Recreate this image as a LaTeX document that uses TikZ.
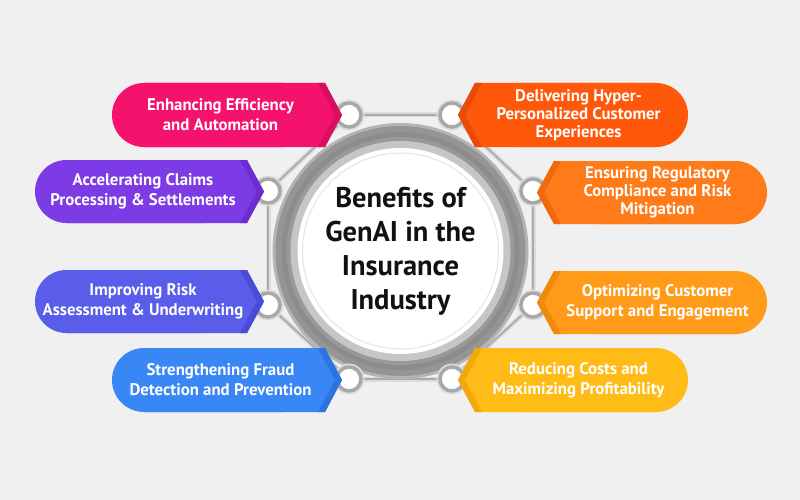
\documentclass[tikz,border=0pt]{standalone}
\usepackage{fontspec}
\setmainfont{PT Sans}
\definecolor{bggray}{HTML}{F0F0F0}
\definecolor{ringgray}{HTML}{A8A8A8}
\definecolor{halogray}{HTML}{DCDCDC}
\definecolor{linegray}{HTML}{AAAAAA}
\definecolor{titleblack}{HTML}{111111}
\definecolor{rgA}{HTML}{B4B4B4}
\definecolor{rgB}{HTML}{959595}
\definecolor{rgC}{HTML}{8C8C8C}
\definecolor{rgD}{HTML}{999999}
\definecolor{rgE}{HTML}{C6C6C6}
\definecolor{rgF}{HTML}{E4E4E4}
\definecolor{pinkA}{HTML}{F5126C}\definecolor{pinkB}{HTML}{D90E5E}
\definecolor{purpA}{HTML}{7D3BE5}\definecolor{purpB}{HTML}{6A2ECF}
\definecolor{indA}{HTML}{5A5CEA}\definecolor{indB}{HTML}{4A4CD8}
\definecolor{blueA}{HTML}{3887F5}\definecolor{blueB}{HTML}{2C74E0}
\definecolor{redA}{HTML}{FF580A}\definecolor{redB}{HTML}{E94A05}
\definecolor{oraA}{HTML}{FF7A18}\definecolor{oraB}{HTML}{EF6A0C}
\definecolor{yelA}{HTML}{FF9B19}\definecolor{yelB}{HTML}{F08A0E}
\definecolor{ambA}{HTML}{FFBB16}\definecolor{ambB}{HTML}{F2A80C}
\pgfdeclarelayer{back}
\pgfdeclarelayer{lines}
\pgfsetlayers{back,lines,main}
% left pill: name, fill, dark, left x, tip x, top y, bottom y, text
\newcommand\lpill[8]{%
  \pgfmathsetmacro\pilRr{(#7-#6)/2}%
  \pgfmathsetmacro\pilMy{(#7+#6)/2}%
  \pgfmathsetmacro\pilCx{#5-17}%
  \pgfmathsetmacro\pilTx{(#4+#5-17)/2+2}%
  \fill[#2, rounded corners=\pilRr pt] (#4,#6) rectangle ({\pilCx-10},#7);
  \fill[#2] ({#4+\pilRr},#6) -- (\pilCx,#6) -- (#5,\pilMy) -- (\pilCx,#7) -- ({#4+\pilRr},#7) -- cycle;
  \fill[#3] ({\pilCx-7},#6) -- (\pilCx,#6) -- (#5,\pilMy) -- (\pilCx,#7) -- ({\pilCx-7},#7) -- ({#5-7},\pilMy) -- cycle;
  \node[pilltext] (#1) at (\pilTx,\pilMy) {#8};
}
% right pill: name, fill, dark, tip x, right x, top y, bottom y, text
\newcommand\rpill[8]{%
  \pgfmathsetmacro\pilRr{(#7-#6)/2}%
  \pgfmathsetmacro\pilMy{(#7+#6)/2}%
  \pgfmathsetmacro\pilCx{#4+17}%
  \pgfmathsetmacro\pilTx{(#4+17+#5)/2-3}%
  \fill[#2, rounded corners=\pilRr pt] ({\pilCx+10},#6) rectangle (#5,#7);
  \fill[#2] ({#5-\pilRr},#6) -- (\pilCx,#6) -- (#4,\pilMy) -- (\pilCx,#7) -- ({#5-\pilRr},#7) -- cycle;
  \fill[#3] ({\pilCx+7},#6) -- (\pilCx,#6) -- (#4,\pilMy) -- (\pilCx,#7) -- ({\pilCx+7},#7) -- ({#4+7},\pilMy) -- cycle;
  \node[pilltext] (#1) at (\pilTx,\pilMy) {#8};
}
\begin{document}
\begin{tikzpicture}[x=1pt,y=-1pt,
  pilltext/.style={text=white, font=\bfseries\fontsize{16.8}{20}\selectfont, align=center, inner sep=0pt},
  hub/.style={circle, minimum size=24pt, inner sep=0pt, fill=white, draw=ringgray, line width=3.5pt, preaction={draw=halogray, line width=7pt}},
  octline/.style={draw=linegray, line width=1.8pt, preaction={draw=halogray, line width=5pt}},
  title/.style={font=\bfseries\fontsize{28.5}{34}\selectfont, align=center, text=titleblack, inner sep=0pt}]
\begin{pgfonlayer}{back}
  \fill[bggray] (0,0) rectangle (800,500);
\end{pgfonlayer}
\useasboundingbox (0,0) rectangle (800,500);
% central ring
\coordinate (ctr) at (400.5,251);
\fill[rgA] (ctr) circle (128pt);
\fill[rgB] (ctr) circle (125pt);
\fill[rgC] (ctr) circle (119pt);
\fill[rgD] (ctr) circle (114pt);
\fill[rgE] (ctr) circle (110pt);
\fill[white] (ctr) circle (103pt);
\draw[rgF, line width=1pt] (ctr) circle (98pt);
\node[title] (title) at (ctr) {Benefits of\\GenAI in the\\Insurance\\Industry};
% connector rings
\node[hub] (c1) at (349,115) {};
\node[hub] (c2) at (452,115) {};
\node[hub] (c3) at (268,191) {};
\node[hub] (c4) at (533,191) {};
\node[hub] (c5) at (268,305) {};
\node[hub] (c6) at (533,305) {};
\node[hub] (c7) at (349,379) {};
\node[hub] (c8) at (452,379) {};
\begin{pgfonlayer}{lines}
  \draw[octline] (c1) -- (c2);
  \draw[octline] (c2) -- (c4);
  \draw[octline] (c4) -- (c6);
  \draw[octline] (c6) -- (c8);
  \draw[octline] (c8) -- (c7);
  \draw[octline] (c7) -- (c5);
  \draw[octline] (c5) -- (c3);
  \draw[octline] (c3) -- (c1);
\end{pgfonlayer}
% pills
\lpill{p1}{pinkA}{pinkB}{112}{342}{83}{147}{Enhancing Efficiency\\and Automation}
\lpill{p2}{purpA}{purpB}{35}{264}{160}{223}{Accelerating Claims\\Processing \& Settlements}
\lpill{p3}{indA}{indB}{35}{264}{270}{333}{Improving Risk\\Assessment \& Underwriting}
\lpill{p4}{blueA}{blueB}{112}{342}{348}{412}{Strengthening Fraud\\Detection and Prevention}
\rpill{p5}{redA}{redB}{458}{688}{83}{147}{Delivering Hyper-\\[-2pt]Personalized Customer\\[-2pt]Experiences}
\rpill{p6}{oraA}{oraB}{537}{767}{161}{224}{Ensuring Regulatory\\[-2pt]Compliance and Risk\\[-2pt]Mitigation}
\rpill{p7}{yelA}{yelB}{537}{767}{271}{334}{Optimizing Customer\\Support and Engagement}
\rpill{p8}{ambA}{ambB}{458}{688}{348}{412}{Reducing Costs and\\Maximizing Profitability}
\end{tikzpicture}
\end{document}
